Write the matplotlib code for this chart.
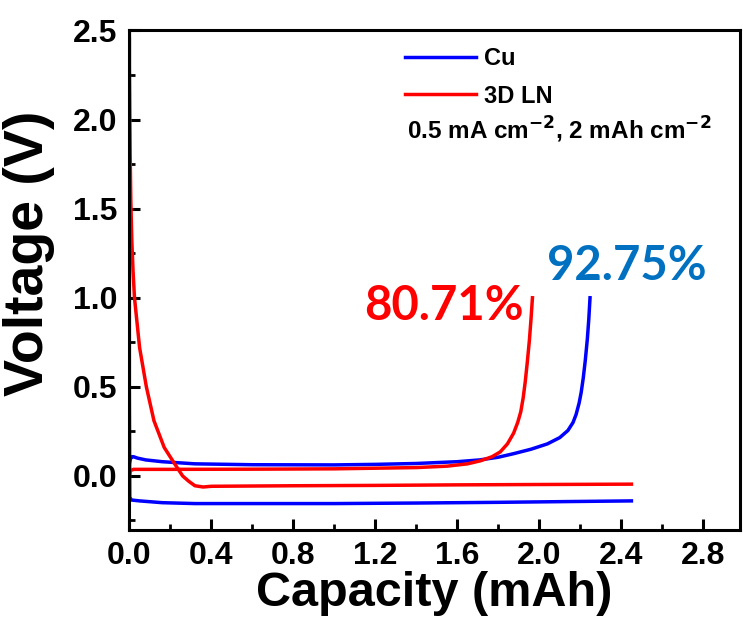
"""Voltage profiles of Cu and 3D LN electrodes (plating / stripping)."""

import matplotlib
matplotlib.use("Agg")
from matplotlib import pyplot as plt
from matplotlib.ticker import MultipleLocator
from matplotlib.lines import Line2D
from matplotlib.font_manager import FontProperties


# Cu: plating branch (capacity, voltage)
cu_plate_x = [0.0, 0.0, 0.002, 0.01, 0.05, 0.16, 0.32, 0.6, 1.0, 1.4, 1.8, 2.2, 2.45]
cu_plate_y = [2.5, 0.5, -0.12, -0.135, -0.14, -0.15, -0.155, -0.155, -0.155, -0.152, -0.148, -0.143, -0.14]

# Cu: stripping branch
cu_strip_x = [0.0, 0.005, 0.012, 0.02, 0.04, 0.08, 0.16, 0.32, 0.6, 1.0, 1.2, 1.4, 1.6,
              1.71, 1.8, 1.875, 1.96, 2.04, 2.1, 2.14, 2.165, 2.18, 2.195, 2.205,
              2.215, 2.225, 2.235, 2.242, 2.248]
cu_strip_y = [0.07, 0.095, 0.108, 0.108, 0.1, 0.09, 0.08, 0.068, 0.063, 0.062, 0.065, 0.07,
              0.08, 0.09, 0.105, 0.125, 0.15, 0.18, 0.215, 0.255, 0.3, 0.345, 0.41, 0.47,
              0.55, 0.65, 0.77, 0.88, 1.0]

# 3D LN: plating branch
ln_plate_x = [0.0, 0.0, 0.002, 0.004, 0.007, 0.012, 0.018, 0.025, 0.05, 0.083, 0.12, 0.17,
              0.22, 0.26, 0.29, 0.32, 0.36, 0.4, 0.8, 1.2, 1.6, 2.0, 2.45]
ln_plate_y = [2.45, 2.3, 2.05, 1.8, 1.55, 1.32, 1.15, 1.0, 0.72, 0.5, 0.31, 0.16,
              0.07, 0.0, -0.03, -0.055, -0.062, -0.058, -0.055, -0.053, -0.05, -0.048, -0.046]

# 3D LN: stripping branch
ln_strip_x = [0.0, 0.005, 0.02, 0.2, 0.6, 1.0, 1.4, 1.55, 1.65, 1.713, 1.77, 1.81, 1.845,
              1.875, 1.895, 1.91, 1.922, 1.932, 1.942, 1.952, 1.96, 1.967]
ln_strip_y = [0.0, 0.03, 0.037, 0.037, 0.038, 0.04, 0.047, 0.055, 0.068, 0.085, 0.108, 0.135,
              0.18, 0.24, 0.3, 0.36, 0.44, 0.53, 0.64, 0.76, 0.88, 1.0]

series_labels = ["Cu", "3D LN"]
series_colors = ["#0000FF", "#FF0000"]
efficiency_labels = ["92.75%", "80.71%"]
efficiency_colors = ["#0070C0", "#FF0000"]

plt.rcParams["font.family"] = ["Liberation Sans", "DejaVu Sans"]
plt.rcParams["font.weight"] = "bold"
plt.rcParams["mathtext.default"] = "bf"

fig = plt.figure(figsize=(7.43, 6.22), dpi=100)
ax = fig.add_axes([0.173, 0.148, 0.823, 0.803])

lw = 2.5
ax.plot(cu_plate_x, cu_plate_y, color=series_colors[0], lw=lw)
ax.plot(cu_strip_x, cu_strip_y, color=series_colors[0], lw=lw)
ax.plot(ln_plate_x, ln_plate_y, color=series_colors[1], lw=lw)
ax.plot(ln_strip_x, ln_strip_y, color=series_colors[1], lw=lw)

ax.set_xlim(-0.004, 2.98)
ax.set_ylim(-0.303, 2.5)

ax.xaxis.set_major_locator(MultipleLocator(0.4))
ax.xaxis.set_minor_locator(MultipleLocator(0.2))
ax.yaxis.set_major_locator(MultipleLocator(0.5))
ax.yaxis.set_minor_locator(MultipleLocator(0.25))
ax.tick_params(which="major", direction="in", length=8, width=2.2, labelsize=23, pad=8)
ax.tick_params(which="minor", direction="in", length=4, width=2.0)
ax.xaxis.set_major_formatter(plt.FuncFormatter(lambda v, p: f"{v:.1f}"))
ax.yaxis.set_major_formatter(plt.FuncFormatter(lambda v, p: f"{v:.1f}"))

for side in ax.spines.values():
    side.set_linewidth(2.2)

ax.set_xlabel("Capacity (mAh)", fontsize=35, fontweight="bold", labelpad=0)
ax.set_ylabel("Voltage (V)", fontsize=40, fontweight="bold")
ax.yaxis.set_label_coords(-0.12, 0.553)

# Legend
handles = [Line2D([], [], color=c, lw=2.5) for c in series_colors]
ax.legend(handles, series_labels, loc="upper left", bbox_to_anchor=(0.452, 0.966),
          frameon=False, handlelength=3.0, handletextpad=0.35, labelspacing=0.6,
          borderaxespad=0, borderpad=0, prop=FontProperties(weight="bold", size=17))
ax.text(0.456, 0.80, "0.5 mA cm$^{-2}$, 2 mAh cm$^{-2}$",
        transform=ax.transAxes, fontsize=17.5, fontweight="bold", va="center")

# Coulombic efficiency labels
ax.text(2.04, 1.10, efficiency_labels[0], color=efficiency_colors[0], fontsize=34,
        fontweight="bold", family=["Lato", "DejaVu Sans"])
ax.text(1.144, 0.876, efficiency_labels[1], color=efficiency_colors[1], fontsize=34,
        fontweight="bold", family=["Lato", "DejaVu Sans"])

fig.savefig("out.png", dpi=100)
